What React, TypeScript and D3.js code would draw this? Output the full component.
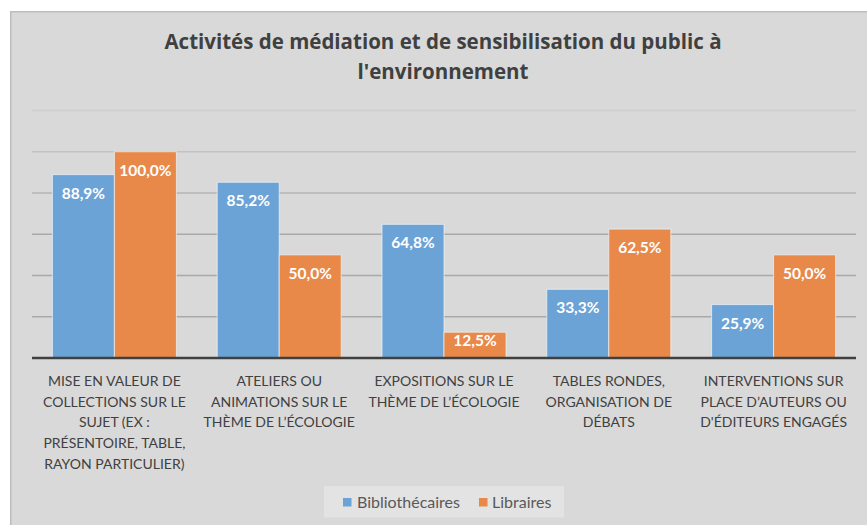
import React from "react";
import * as d3 from "d3";

const title = ["Activités de médiation et de sensibilisation du public à", "l'environnement"];
const categories = ["cat1", "cat2", "cat3", "cat4", "cat5"];
const categoryLines = [
  ["MISE EN VALEUR DE", "COLLECTIONS SUR LE", "SUJET (EX :", "PRÉSENTOIRE, TABLE,", "RAYON PARTICULIER)"],
  ["ATELIERS OU", "ANIMATIONS SUR LE", "THÈME DE L’ÉCOLOGIE"],
  ["EXPOSITIONS SUR LE", "THÈME DE L’ÉCOLOGIE"],
  ["TABLES RONDES,", "ORGANISATION DE", "DÉBATS"],
  ["INTERVENTIONS SUR", "PLACE D’AUTEURS OU", "D'ÉDITEURS ENGAGÉS"],
];
const seriesNames = ["Bibliothécaires", "Libraires"];
const bibliothecaires = [0.889, 0.852, 0.648, 0.333, 0.259];
const libraires = [1.0, 0.5, 0.125, 0.625, 0.5];
const gridTicks = [0.2, 0.4, 0.6, 0.8, 1.0, 1.2];
const colors = ["#6ca3d6", "#e8894a"];

const FONT = "Lato, 'Open Sans', sans-serif";
const TFONT = "'Open Sans', Lato, sans-serif";

export default function App() {
  const W = 867, H = 525;
  const x0 = 32, x1 = 856, yBase = 358, yTop = 110.5;
  const x = d3.scaleBand<string>().domain(categories).range([x0, x1]).paddingInner(0.2476).paddingOuter(0.1238);
  const xs = d3.scaleBand<string>().domain(seriesNames).range([0, x.bandwidth()]);
  const y = d3.scaleLinear().domain([0, 1.2]).range([yBase, yTop]);
  const fmt = (v: number) => (v * 100).toFixed(1).replace(".", ",") + "%";
  const gridColor = (t: number) => (t >= 1.2 ? "#cfcfcf" : t >= 1.0 ? "#c3c3c3" : t >= 0.8 ? "#b5b5b5" : "#a9a9a9");
  const series = [bibliothecaires, libraires];

  return (
    <svg width={W} height={H} style={{ position: "absolute", left: 0, top: 0, background: "#fff" }}>
      <rect x={10.75} y={11.75} width={W + 10} height={H + 10} fill="#d9d9d9" stroke="#bdbdbd" strokeWidth={1.5} />
      <g fontFamily={TFONT} fontWeight="bold" fontSize={20.5} fill="#404040" textAnchor="middle">
        {title.map((t, i) => (
          <text key={i} x={443} y={49 + i * 30}>{t}</text>
        ))}
      </g>
      {gridTicks.map((t) => (
        <line key={t} x1={x0} x2={x1} y1={y(t)} y2={y(t)} stroke={gridColor(t)} strokeWidth={1.3} />
      ))}
      {categories.map((c, ci) => (
        <g key={c}>
          {series.map((s, si) => {
            const bx = (x(c) as number) + (xs(seriesNames[si]) as number);
            const bw = xs.bandwidth();
            const top = y(s[ci]);
            const ly = Math.min(top + 24, yBase - 12);
            return (
              <g key={si}>
                <rect x={bx} y={top} width={bw} height={yBase - top} fill={colors[si]} stroke="#eef3f8" strokeOpacity={0.7} strokeWidth={1} />
                <text x={bx + bw / 2} y={ly} textAnchor="middle" fontFamily={FONT} fontWeight="bold" fontSize={15.5} fill="#ffffff">
                  {fmt(s[ci])}
                </text>
              </g>
            );
          })}
        </g>
      ))}
      <line x1={x0} x2={x1} y1={yBase} y2={yBase} stroke="#404040" strokeWidth={2.5} />
      <g fontFamily={FONT} fontSize={14} fill="#404040" textAnchor="middle">
        {categories.map((c, ci) =>
          categoryLines[ci].map((l, li) => (
            <text key={c + li} x={(x(c) as number) + x.bandwidth() / 2} y={386 + li * 20.7}>{l}</text>
          ))
        )}
      </g>
      <rect x={324} y={486} width={240} height={31.5} fill="#e3e3e3" />
      <g fontFamily={FONT} fontSize={16} fill="#595959">
        <rect x={343} y={498} width={8.5} height={8.5} fill={colors[0]} />
        <text x={357} y={507.5}>{seriesNames[0]}</text>
        <rect x={479} y={498} width={8.5} height={8.5} fill={colors[1]} />
        <text x={492} y={507.5}>{seriesNames[1]}</text>
      </g>
    </svg>
  );
}
